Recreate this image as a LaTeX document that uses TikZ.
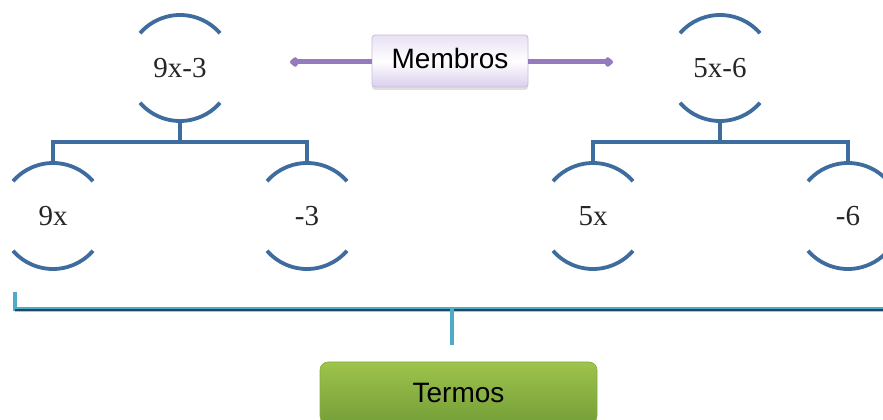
\documentclass[tikz,border=0pt]{standalone}
\usepackage{fontspec}
\newfontfamily\boxfont{Liberation Sans}
\newfontfamily\termfont{Liberation Serif}
\usetikzlibrary{arrows.meta,shadows}

\definecolor{arcblue}{RGB}{62,108,158}
\definecolor{brcyan}{RGB}{78,172,200}
\definecolor{brdark}{RGB}{32,72,92}
\definecolor{memline}{RGB}{150,122,190}
\definecolor{memtop}{RGB}{232,224,244}
\definecolor{membot}{RGB}{218,206,236}
\definecolor{memedge}{RGB}{200,188,222}
\definecolor{greentop}{RGB}{158,196,76}
\definecolor{greenbot}{RGB}{116,158,56}
\definecolor{greenedge}{RGB}{132,172,64}

\tikzset{
  term/.style={circle, minimum size=106pt, inner sep=0pt, outer sep=0pt,
    text=black!85, font=\termfont\fontsize{29}{34}\selectfont},
  arcline/.style={draw=arcblue, line width=3.8pt},
  treeline/.style={draw=arcblue, line width=3.8pt},
  membox/.style={rectangle, rounded corners=3pt, minimum width=156pt,
    minimum height=52pt, inner sep=0pt, text depth=6pt,
    draw=memedge, line width=0.8pt,
    top color=memtop, bottom color=membot, middle color=white,
    drop shadow={shadow xshift=0pt, shadow yshift=-3pt, opacity=0.25},
    font=\boxfont\fontsize{28}{34}\selectfont},
  memarrow/.style={draw=memline, line width=5pt,
    -{Kite[length=10pt,width=12pt,inset=3pt,round]}},
  termbox/.style={rectangle, rounded corners=8pt, minimum width=277pt,
    minimum height=62pt, inner sep=0pt,
    draw=greenedge, line width=0.6pt,
    top color=greentop, bottom color=greenbot,
    font=\boxfont\fontsize{28}{34}\selectfont},
  bracketline/.style={draw=brcyan, line width=3.4pt},
  bracketcore/.style={draw=brdark, line width=2pt},
}

\begin{document}
\begin{tikzpicture}[x=1pt,y=1pt]
\useasboundingbox (0,0) rectangle (883,420);

% expressions and their terms
\node[term] (t1) at (180,352) {9x-3};
\node[term] (t2) at (720,352) {5x-6};
\node[term] (c1) at (53,204)  {9x};
\node[term] (c2) at (307,204) {-3};
\node[term] (c3) at (593,204) {5x};
\node[term] (c4) at (848,204) {-6};

% open circle outline: an arc above and an arc below each label
\foreach \n in {t1,t2,c1,c2,c3,c4} {
  \draw[arcline] (\n.41) arc[start angle=41, end angle=139, radius=53pt];
  \draw[arcline] (\n.221) arc[start angle=221, end angle=319, radius=53pt];
}

% tree branches
\coordinate (b1) at (180,278);
\coordinate (b2) at (720,278);
\draw[treeline] (t1.south) -- (b1);
\draw[treeline] (c1.north) |- (b1) -| (c2.north);
\draw[treeline] (t2.south) -- (b2);
\draw[treeline] (c3.north) |- (b2) -| (c4.north);

% "Membros" label with arrows to both sides
\node[membox] (memb) at (450,359) {Membros};
\coordinate (memL) at (290,358);
\coordinate (memR) at (613,358);
\draw[memarrow] (memb.west |- memL) -- (memL);
\draw[memarrow] (memb.east |- memR) -- (memR);

% bracket gathering all terms
\coordinate (brL) at (15,128);
\coordinate (brR) at (900,111);
\coordinate (brM) at (452,111);
\coordinate (brS) at (452,75);
\draw[draw=black!25, line width=2pt] ([yshift=-2.5pt]brL |- brR) -- ([yshift=-2.5pt]brR);
\draw[bracketline] (brL) |- (brR);
\draw[bracketcore] ([yshift=-0.6pt]brL |- brR) -- ([yshift=-0.6pt]brR);
\draw[bracketline] (brM) -- (brS);

% "Termos" label
\node[termbox] (termos) at (458.5,27) {Termos};
\end{tikzpicture}
\end{document}
